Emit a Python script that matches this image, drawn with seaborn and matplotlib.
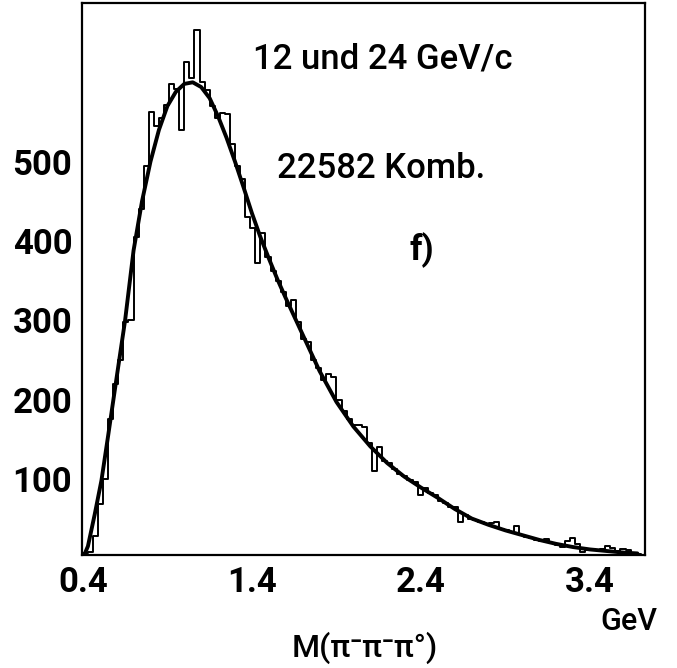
import numpy as np
import pandas as pd
import seaborn as sns
import matplotlib
matplotlib.use("Agg")
import matplotlib.pyplot as plt

# ---- data ----
bin_width = 0.03
bin_start = 0.40
counts = [
    6, 8, 28, 68, 100, 175, 220, 250, 298, 300,
    405, 440, 495, 562, 545, 555, 572, 598, 592, 540,
    625, 605, 666, 600, 590, 570, 555, 561, 560, 522,
    495, 478, 430, 416, 372, 410, 380, 362, 350, 335,
    318, 325, 298, 276, 272, 250, 240, 225, 232, 228,
    200, 185, 175, 168, 168, 166, 145, 110, 140, 122,
    120, 112, 106, 103, 98, 96, 80, 88, 82, 80,
    72, 70, 64, 64, 46, 54, 50, 48, 45, 43,
    44, 45, 37, 35, 33, 40, 29, 27, 25, 23,
    22, 24, 19, 16, 14, 22, 25, 18, 8, 10,
    11, 10, 12, 15, 13, 9, 11, 10, 7, 5, 3,
]
curve_x = [0.40, 0.43, 0.47, 0.51, 0.55, 0.60, 0.65, 0.70, 0.75, 0.80,
           0.85, 0.90, 0.95, 1.00, 1.05, 1.10, 1.15, 1.20, 1.25, 1.30,
           1.35, 1.40, 1.45, 1.50, 1.55, 1.60, 1.70, 1.80, 1.90, 2.00,
           2.10, 2.20, 2.30, 2.40, 2.50, 2.60, 2.70, 2.80, 2.90, 3.00,
           3.10, 3.20, 3.30, 3.40, 3.50, 3.60, 3.68]
curve_y = [0, 15, 55, 98, 155, 228, 300, 388, 450, 500,
           540, 570, 588, 598, 600, 594, 580, 557, 530, 500,
           468, 435, 405, 378, 352, 328, 282, 236, 197, 166,
           141, 120, 103, 89, 76, 62, 50, 42, 35, 29,
           23, 18, 14, 11, 9, 7, 6]
x_ticks = [0.4, 1.4, 2.4, 3.4]
x_tick_labels = ["0.4", "1.4", "2.4", "3.4"]
y_ticks = [100, 200, 300, 400, 500]
y_tick_labels = ["100", "200", "300", "400", "500"]

n = len(counts)
edges = [round(bin_start + bin_width * i, 4) for i in range(n + 1)]
centers = [round(bin_start + bin_width * (i + 0.5), 4) for i in range(n)]
df = pd.DataFrame({"m": centers, "n": counts})
cdf = pd.DataFrame({"x": curve_x, "y": curve_y})

sns.set_theme(style="white")
FAM = ["Roboto", "DejaVu Sans"]
plt.rcParams["font.family"] = FAM

fig = plt.figure(figsize=(6.77, 6.68), dpi=100)
ax = fig.add_axes([82 / 677, (668 - 555) / 668, (645 - 82) / 677, (555 - 3) / 668])

sns.histplot(data=df, x="m", weights="n", bins=edges, element="step", fill=False,
             color="black", linewidth=1.4, ax=ax)
sns.lineplot(data=cdf, x="x", y="y", color="black", linewidth=2.8, ax=ax)

ax.set_xlim(0.395, 3.725)
ax.set_ylim(4, 700)
ax.set_xlabel("")
ax.set_ylabel("")
ax.set_xticks(x_ticks)
ax.set_xticklabels(x_tick_labels)
ax.set_yticks(y_ticks)
ax.set_yticklabels(y_tick_labels)
ax.tick_params(axis="both", direction="in", length=8, width=1.5, color="black")
ax.tick_params(axis="y", pad=7)
ax.tick_params(axis="x", pad=8)
for lab in ax.get_xticklabels() + ax.get_yticklabels():
    lab.set_fontsize(25)
    lab.set_fontweight("bold")
    lab.set_color("black")
for s in ax.spines.values():
    s.set_color("black")
    s.set_linewidth(1.6)
    s.set_visible(True)

def ftext(xp, yp, s, size, weight="medium", ha="center"):
    fig.text(xp / 677, 1 - yp / 668, s, ha=ha, va="center", fontsize=size,
             fontweight=weight, color="black")

ftext(383, 59, "12 und 24 GeV/c", 25)
ftext(381, 169, "22582 Komb.", 25)
ftext(422, 250, "f)", 25, weight="bold")
ftext(629, 622, "GeV", 22)
ftext(365, 648, "M(π⁻π⁻π°)", 23)

fig.savefig("out.png", dpi=100)
